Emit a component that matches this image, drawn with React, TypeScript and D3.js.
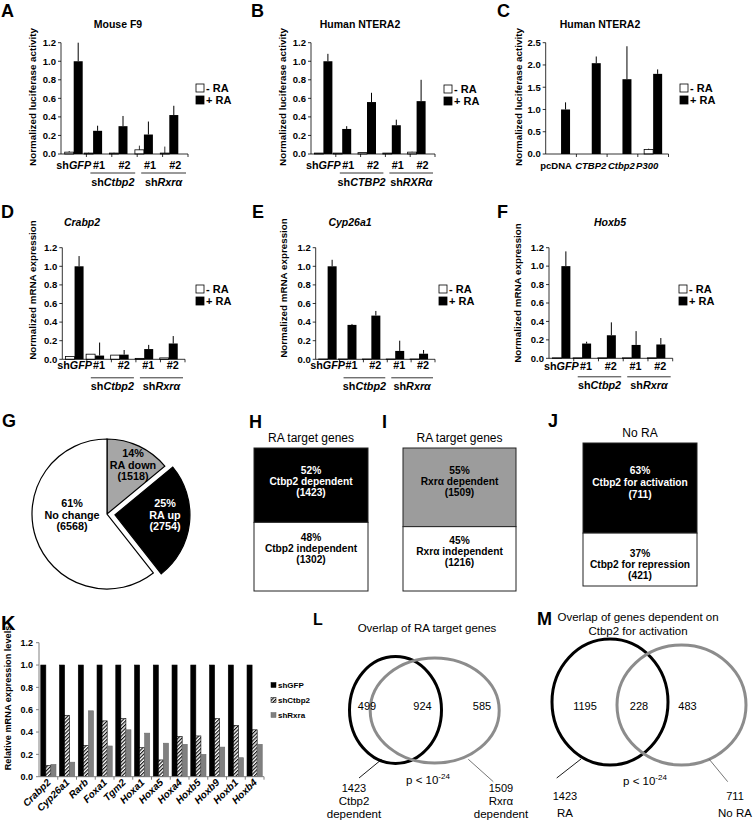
import React from 'react';
import * as d3 from 'd3';

const FONT = 'Arial, "Liberation Sans", Helvetica, sans-serif';

// ================= DATA =================
// Panels A–F : categories (text between * is italic)
const catsSh = ['sh*GFP*', '#1', '#2', '#1', '#2'];
const groupsMouse = ['sh*Ctbp2*', 'sh*Rxrα*'];
const groupsHuman = ['sh*CTBP2*', 'sh*RXRα*'];
const catsC = ['pcDNA', '*CTBP2*', '*Ctbp2*', '*P300*'];
const legendLabels = ['- RA', '+ RA'];

const ticks12 = [0, 0.2, 0.4, 0.6, 0.8, 1.0, 1.2];
const ticks25 = [0, 0.5, 1.0, 1.5, 2.0, 2.5];

// A: Mouse F9 luciferase
const minusA = [0.02, 0.01, 0.01, 0.045, 0.01];
const minusErrA = [0.012, 0.004, 0.004, 0.045, 0.07];
const plusA = [1.0, 0.25, 0.3, 0.21, 0.42];
const plusErrA = [0.2, 0.055, 0.11, 0.14, 0.1];

// B: Human NTERA2 luciferase
const minusB = [0.01, 0.01, 0.015, 0.01, 0.02];
const minusErrB = [0, 0, 0, 0, 0.005];
const plusB = [1.0, 0.27, 0.56, 0.31, 0.57];
const plusErrB = [0.08, 0.03, 0.1, 0.06, 0.23];

// C: Human NTERA2 overexpression
const minusC = [0, 0, 0, 0.1];
const minusErrC = [0, 0, 0, 0.02];
const plusC = [1.0, 2.04, 1.68, 1.8];
const plusErrC = [0.16, 0.15, 0.74, 0.1];

// D: Crabp2 mRNA
const minusD = [0.03, 0.055, 0.045, 0.01, 0.015];
const minusErrD = [0, 0, 0, 0, 0];
const plusD = [1.0, 0.04, 0.05, 0.11, 0.17];
const plusErrD = [0.11, 0.14, 0.05, 0.045, 0.08];

// E: Cyp26a1 mRNA
const minusE = [0.003, 0.003, 0.003, 0.003, 0.003];
const minusErrE = [0, 0, 0, 0, 0];
const plusE = [1.0, 0.37, 0.47, 0.09, 0.06];
const plusErrE = [0.07, 0.01, 0.05, 0.11, 0.04];

// F: Hoxb5 mRNA
const minusF = [0.005, 0.005, 0.005, 0.005, 0.005];
const minusErrF = [0, 0, 0, 0, 0];
const plusF = [1.0, 0.16, 0.25, 0.145, 0.15];
const plusErrF = [0.16, 0.02, 0.14, 0.15, 0.07];

// G: pie
const gLabels = ['RA down', 'RA up', 'No change'];
const gCounts = [1518, 2754, 6568];
const gPct = [14, 25, 61];

// H, I, J: stacked boxes
const hPct = [52, 48];
const hCounts = [1423, 1302];
const hLabels = ['Ctbp2 dependent', 'Ctbp2 independent'];
const iPct = [55, 45];
const iCounts = [1509, 1216];
const iLabels = ['Rxrα dependent', 'Rxrα independent'];
const jPct = [63, 37];
const jCounts = [711, 421];
const jLabels = ['Ctbp2 for activation', 'Ctbp2 for repression'];

// K: relative mRNA
const kGenes = ['Crabp2', 'Cyp26a1', 'Rarb', 'Foxa1', 'Tgm2', 'Hoxa1', 'Hoxa5', 'Hoxa4', 'Hoxb5', 'Hoxb9', 'Hoxb1', 'Hoxb4'];
const kSeries = ['shGFP', 'shCtbp2', 'shRxra'];
const kShGFP = [1, 1, 1, 1, 1, 1, 1, 1, 1, 1, 1, 1];
const kShCtbp2 = [0.1, 0.55, 0.28, 0.5, 0.52, 0.26, 0.15, 0.36, 0.365, 0.52, 0.46, 0.42];
const kShRxra = [0.11, 0.13, 0.59, 0.275, 0.42, 0.39, 0.3, 0.29, 0.2, 0.265, 0.17, 0.29];

// L, M: Venn
const lCounts = [499, 924, 585];
const lTotals = [1423, 1509];
const lSetNames = [['Ctbp2', 'dependent'], ['Rxrα', 'dependent']];
const mCounts = [1195, 228, 483];
const mTotals = [1423, 711];
const mSetNames = [['RA'], ['No RA']];

// ================= HELPERS =================
const rich = (s: string) =>
  s.split('*').map((p, i) =>
    p === '' ? null : (
      <tspan key={i} fontStyle={i % 2 === 1 ? 'italic' : 'normal'}>
        {p}
      </tspan>
    )
  );

function Letter({ x, y, t, size = 18 }: any) {
  return (
    <text x={x} y={y} fontSize={size} fontWeight="bold">
      {t}
    </text>
  );
}

// ================= BAR PANELS =================
function BarPanel({ c }: any) {
  const ticks: number[] = c.ticks;
  const yMax = ticks[ticks.length - 1];
  const y = d3.scaleLinear().domain([0, yMax]).range([c.yBase, c.yTop]);
  const x = d3.scaleBand<number>().domain(d3.range(c.cats.length)).range([c.x0, c.x1]);
  const step = x.step();
  const bw = 9;
  const fmt = d3.format('.1f');
  const shift = (i: number) => (c.barShift ? c.barShift[i] : 0);
  const lshift = (i: number) => (c.labelShift ? c.labelShift[i] : 0);
  const labelFont = c.labelFont || 10.8;
  return (
    <g>
      <Letter x={c.letterX} y={c.letterY} t={c.letter} />
      <text x={c.titleX} y={c.titleY} fontSize={10.5} fontWeight="bold" textAnchor="middle">
        {rich(c.title)}
      </text>
      <text
        transform={`translate(${c.yLabelX},${c.yLabelY}) rotate(-90)`}
        dy="0.35em"
        fontSize={9.8}
        fontWeight="bold"
        textAnchor="middle"
      >
        {c.yLabel}
      </text>
      {c.cats.map((cat: string, i: number) => {
        const center = (x(i) as number) + step / 2;
        const cx = center + shift(i);
        return (
          <g key={i}>
            <rect x={cx - bw} y={y(c.minus[i])} width={bw} height={c.yBase - y(c.minus[i])} fill="#fff" stroke="#000" strokeWidth={0.8} />
            {c.minusErr[i] > 0 && (
              <line x1={cx - bw / 2} x2={cx - bw / 2} y1={y(c.minus[i])} y2={y(c.minus[i] + c.minusErr[i])} stroke="#000" strokeWidth={0.8} />
            )}
            <rect x={cx} y={y(c.plus[i])} width={bw} height={c.yBase - y(c.plus[i])} fill="#000" />
            {c.plusErr[i] > 0 && (
              <line x1={cx + bw / 2} x2={cx + bw / 2} y1={y(c.plus[i])} y2={y(c.plus[i] + c.plusErr[i])} stroke="#000" strokeWidth={1} />
            )}
            <text x={center + lshift(i)} y={c.yBase + c.labelDy} fontSize={labelFont} fontWeight="bold" textAnchor="middle">
              {rich(cat)}
            </text>
          </g>
        );
      })}
      {/* y axis */}
      <line x1={c.x0} x2={c.x0} y1={y(0)} y2={y(yMax)} stroke="#000" strokeWidth={0.8} />
      {ticks.map((t) => (
        <g key={t}>
          <line x1={c.x0 - 3} x2={c.x0} y1={y(t)} y2={y(t)} stroke="#000" strokeWidth={0.8} />
          <text x={c.x0 - 5} y={y(t)} dy="0.35em" fontSize={9.5} fontWeight="bold" textAnchor="end">
            {fmt(t)}
          </text>
        </g>
      ))}
      {/* x axis */}
      <line x1={c.x0} x2={c.x1} y1={y(0)} y2={y(0)} stroke="#000" strokeWidth={0.8} />
      {d3.range(1, c.cats.length + 1).map((i) => (
        <line key={i} x1={c.x0 + i * step} x2={c.x0 + i * step} y1={y(0)} y2={y(0) + 3} stroke="#000" strokeWidth={0.8} />
      ))}
      {c.groups &&
        c.groups.map((g: string, gi: number) => {
          const [a, b] = c.groupSpans[gi];
          const xa = (x(a) as number) + 4;
          const xb = (x(b) as number) + step - 2;
          return (
            <g key={gi}>
              <line x1={xa} x2={xb} y1={c.yBase + c.lineDy} y2={c.yBase + c.lineDy} stroke="#000" strokeWidth={0.8} />
              <text x={(xa + xb) / 2} y={c.yBase + c.groupDy} fontSize={10.8} fontWeight="bold" textAnchor="middle">
                {rich(g)}
              </text>
            </g>
          );
        })}
      {/* legend */}
      {legendLabels.map((l, i) => (
        <g key={l}>
          <rect x={c.legendX} y={c.legendY + i * 12 - 4} width={8} height={8} fill={i === 0 ? '#fff' : '#000'} stroke="#000" strokeWidth={0.8} />
          <text x={c.legendX + 10} y={c.legendY + i * 12} dy="0.35em" fontSize={11} fontWeight="bold">
            {l}
          </text>
        </g>
      ))}
    </g>
  );
}

const topRow = { yBase: 154, yTop: 42.7, labelDy: 15, lineDy: 19, groupDy: 32 };
const midRow = { yBase: 359.3, yTop: 247.7, labelDy: 9.5, lineDy: 18.5, groupDy: 31 };
const shiftSh = [0, -6, -6, -6, -6];
const shiftShD = [0, -4, -4, -4, -4];

const panelA = {
  ...topRow, letter: 'A', letterX: 1, letterY: 17, title: 'Mouse F9', titleX: 118, titleY: 28,
  yLabel: 'Normalized luciferase activity', yLabelX: 33, yLabelY: 97,
  x0: 61, x1: 188, ticks: ticks12, cats: catsSh, minus: minusA, minusErr: minusErrA, plus: plusA, plusErr: plusErrA,
  groups: groupsMouse, groupSpans: [[1, 2], [3, 4]], legendX: 196, legendY: 88, barShift: shiftSh,
};
const panelB = {
  ...topRow, letter: 'B', letterX: 251, letterY: 17, title: 'Human NTERA2', titleX: 360, titleY: 28,
  yLabel: 'Normalized luciferase activity', yLabelX: 283, yLabelY: 97,
  x0: 311, x1: 435, ticks: ticks12, cats: catsSh, minus: minusB, minusErr: minusErrB, plus: plusB, plusErr: plusErrB,
  groups: groupsHuman, groupSpans: [[1, 2], [3, 4]], legendX: 444, legendY: 89, barShift: shiftSh,
};
const panelC = {
  ...topRow, letter: 'C', letterX: 497, letterY: 17, title: 'Human NTERA2', titleX: 600, titleY: 28,
  yLabel: 'Normalized luciferase activity', yLabelX: 519, yLabelY: 97,
  x0: 545.7, x1: 668.5, ticks: ticks25, cats: catsC, minus: minusC, minusErr: minusErrC, plus: plusC, plusErr: plusErrC,
  legendX: 680, legendY: 88, labelShift: [-5, -1, -1, -6], labelFont: 9.5,
};
const panelD = {
  ...midRow, letter: 'D', letterX: 1, letterY: 218, title: '*Crabp2*', titleX: 82, titleY: 226,
  yLabel: 'Normalized mRNA expression', yLabelX: 33, yLabelY: 290,
  x0: 62.3, x1: 185, ticks: ticks12, cats: catsSh, minus: minusD, minusErr: minusErrD, plus: plusD, plusErr: plusErrD,
  groups: groupsMouse, groupSpans: [[1, 2], [3, 4]], legendX: 196, legendY: 289, barShift: shiftShD,
};
const panelE = {
  ...midRow, letter: 'E', letterX: 252, letterY: 218, title: '*Cyp26a1*', titleX: 350, titleY: 226,
  yLabel: 'Normalized mRNA expression', yLabelX: 284, yLabelY: 288,
  x0: 315.7, x1: 435, ticks: ticks12, cats: catsSh, minus: minusE, minusErr: minusErrE, plus: plusE, plusErr: plusErrE,
  groups: groupsMouse, groupSpans: [[1, 2], [3, 4]], legendX: 439, legendY: 289, barShift: shiftShD,
};
const panelF = {
  ...midRow, yBase: 358.3, letter: 'F', letterX: 497, letterY: 218, title: '*Hoxb5*', titleX: 610, titleY: 226,
  yLabel: 'Normalized mRNA expression', yLabelX: 518, yLabelY: 293,
  x0: 549, x1: 672.7, ticks: ticks12, cats: catsSh, minus: minusF, minusErr: minusErrF, plus: plusF, plusErr: plusErrF,
  groups: groupsMouse, groupSpans: [[1, 2], [3, 4]], legendX: 679, legendY: 289, labelDy: 11.5, barShift: shiftShD,
};

// ================= PIE (G) =================
function PiePanel() {
  const cx = 107, cy = 514, r = 75, explode = 8;
  const arcs = d3.pie<number>().sort(null).startAngle(0).endAngle(2 * Math.PI)(gCounts);
  const arc = d3.arc<d3.PieArcDatum<number>>().innerRadius(0).outerRadius(r);
  const fills = ['#a6a6a6', '#000', '#fff'];
  const textFill = ['#000', '#fff', '#000'];
  const labelPos = [[133, 468.5], [165, 518.5], [72, 518.5]];
  return (
    <g>
      <Letter x={2} y={427} t="G" />
      {arcs.map((a, i) => {
        const mid = (a.startAngle + a.endAngle) / 2;
        const off = i === 1 ? explode : 0;
        const dx = Math.sin(mid) * off, dy = -Math.cos(mid) * off;
        return (
          <path key={i} d={arc(a) as string} transform={`translate(${cx + dx},${cy + dy})`} fill={fills[i]} stroke="#000" strokeWidth={1.2} />
        );
      })}
      {arcs.map((a, i) => (
        <text key={'t' + i} x={labelPos[i][0]} y={labelPos[i][1]} fontSize={10.8} fontWeight="bold" textAnchor="middle" fill={textFill[i]}>
          <tspan x={labelPos[i][0]} dy={-11.5}>{gPct[i]}%</tspan>
          <tspan x={labelPos[i][0]} dy={11.5}>{gLabels[i]}</tspan>
          <tspan x={labelPos[i][0]} dy={11.5}>({gCounts[i]})</tspan>
        </text>
      ))}
    </g>
  );
}

// ================= BOXES (H, I, J) =================
function BoxPanel({ c }: any) {
  const y = d3.scaleLinear().domain([0, 100]).range([c.top, c.top + c.h]);
  const split = y(c.pct[0]);
  const cx = c.x + c.w / 2;
  const lines = (i: number) => [`${c.pct[i]}%`, c.labels[i], `(${c.counts[i]})`];
  return (
    <g>
      <Letter x={c.letterX} y={c.letterY} t={c.letter} />
      <text x={cx} y={c.titleY} fontSize={12} textAnchor="middle">
        {c.title}
      </text>
      <rect x={c.x} y={y(0)} width={c.w} height={split - y(0)} fill={c.fill} stroke="#222" strokeWidth={1} />
      <rect x={c.x} y={split} width={c.w} height={y(100) - split} fill="#fff" stroke="#222" strokeWidth={1} />
      {lines(0).map((t, k) => (
        <text key={'a' + k} x={cx} y={y(0) + c.topOff[k]} fontSize={10.2} fontWeight="bold" textAnchor="middle" fill={c.textFill}>
          {t}
        </text>
      ))}
      {lines(1).map((t, k) => (
        <text key={'b' + k} x={cx} y={split + c.botOff[k]} fontSize={10.2} fontWeight="bold" textAnchor="middle" fill="#000">
          {t}
        </text>
      ))}
    </g>
  );
}

const boxH = { letter: 'H', letterX: 249, letterY: 428, title: 'RA target genes', titleY: 442, x: 254, w: 114, top: 448, h: 143,
  pct: hPct, counts: hCounts, labels: hLabels, fill: '#000', textFill: '#fff', topOff: [26, 37, 48], botOff: [19, 30, 41] };
const boxI = { letter: 'I', letterX: 382, letterY: 428, title: 'RA target genes', titleY: 442, x: 403, w: 113, top: 448, h: 143,
  pct: iPct, counts: iCounts, labels: iLabels, fill: '#9c9c9c', textFill: '#000', topOff: [26, 37, 48], botOff: [17, 28, 39] };
const boxJ = { letter: 'J', letterX: 548, letterY: 427, title: 'No RA', titleY: 437, x: 583, w: 114, top: 443, h: 143,
  pct: jPct, counts: jCounts, labels: jLabels, fill: '#000', textFill: '#fff', topOff: [31, 43, 55], botOff: [24, 35, 46] };

// ================= K =================
function KPanel() {
  const y = d3.scaleLinear().domain([0, 1.2]).range([776.7, 642.7]);
  const x = d3.scaleBand<string>().domain(kGenes).range([39, 264]);
  const inner = d3.scaleBand<string>().domain(kSeries).range([0, x.step()]).paddingInner(0).paddingOuter(0.35);
  const series = [kShGFP, kShCtbp2, kShRxra];
  const fills = ['#000', 'url(#hatch)', '#808080'];
  const strokes = ['#000', '#000', '#6a6a6a'];
  const fmt = d3.format('.1f');
  const axisCol = '#808080';
  return (
    <g>
      <defs>
        <pattern id="hatch" width={2.6} height={2.6} patternUnits="userSpaceOnUse" patternTransform="rotate(45)">
          <rect width={2.6} height={2.6} fill="#fff" />
          <line x1={0.6} y1={0} x2={0.6} y2={2.6} stroke="#000" strokeWidth={1.1} />
        </pattern>
      </defs>
      <Letter x={1} y={630} t="K" size={20} />
      <text transform="translate(7.5,698) rotate(-90)" dy="0.35em" fontSize={9.2} fontWeight="bold" textAnchor="middle">
        Relative mRNA expression levels
      </text>
      {kGenes.map((g, gi) => (
        <g key={g}>
          {series.map((s, si) => (
            <rect key={si} x={(x(g) as number) + (inner(kSeries[si]) as number)} y={y(s[gi])} width={inner.bandwidth()}
              height={y(0) - y(s[gi])} fill={fills[si]} stroke={strokes[si]} strokeWidth={0.6} />
          ))}
          <text transform={`translate(${(x(g) as number) + x.step() / 2 + 3},${783}) rotate(-45)`} fontSize={10}
            fontWeight="bold" fontStyle="italic" textAnchor="end">
            {g}
          </text>
        </g>
      ))}
      <line x1={39} x2={39} y1={y(0)} y2={y(1.2)} stroke={axisCol} strokeWidth={1} />
      {ticks12.map((t) => (
        <g key={t}>
          <line x1={36} x2={39} y1={y(t)} y2={y(t)} stroke={axisCol} />
          <text x={33} y={y(t)} dy="0.35em" fontSize={9} fontWeight="bold" textAnchor="end">{fmt(t)}</text>
        </g>
      ))}
      <line x1={39} x2={264} y1={y(0)} y2={y(0)} stroke={axisCol} strokeWidth={1} />
      {d3.range(1, kGenes.length + 1).map((i) => (
        <line key={i} x1={39 + i * x.step()} x2={39 + i * x.step()} y1={y(0)} y2={y(0) + 3} stroke={axisCol} />
      ))}
      {kSeries.map((s, si) => (
        <g key={s}>
          <rect x={271} y={685 + si * 15 - 2.5} width={5} height={5} fill={fills[si]} stroke={strokes[si]} strokeWidth={0.5} />
          <text x={278} y={685 + si * 15} dy="0.35em" fontSize={8} fontWeight="bold">{s}</text>
        </g>
      ))}
    </g>
  );
}

// ================= VENN (L, M) =================
function VennPanel({ c }: any) {
  return (
    <g>
      <Letter x={c.letterX} y={c.letterY} t={c.letter} size={c.letterSize} />
      {c.title.map((t: string, i: number) => (
        <text key={i} x={c.titleX} y={c.titleY + i * 13.5} fontSize={11.5} textAnchor="middle">{t}</text>
      ))}
      {c.ellipses.map((e: any, i: number) => (
        <ellipse key={i} cx={e[0]} cy={e[1]} rx={e[2]} ry={e[3]} fill="none" stroke={i === 0 ? '#000' : '#8c8c8c'} strokeWidth={3} />
      ))}
      {c.counts.map((n: number, i: number) => (
        <text key={i} x={c.countX[i]} y={c.countY} fontSize={11} textAnchor="middle">{n}</text>
      ))}
      {c.leaders.map((l: number[], i: number) => (
        <line key={i} x1={l[0]} y1={l[1]} x2={l[2]} y2={l[3]} stroke={i === 0 ? '#000' : '#666'} strokeWidth={0.9} />
      ))}
      <text x={c.pX} y={c.pY} fontSize={11.5} textAnchor="middle">
        p &lt; 10<tspan dy={-5} fontSize={8}>-24</tspan>
      </text>
      {c.totals.map((n: number, i: number) => (
        <g key={i}>
          <text x={c.totalX[i]} y={c.totalY} fontSize={11} textAnchor="middle">{n}</text>
          {c.names[i].map((t: string, k: number) => (
            <text key={k} x={c.totalX[i]} y={c.totalY + (k + 1) * c.nameStep} fontSize={11.5} textAnchor="middle">{t}</text>
          ))}
        </g>
      ))}
    </g>
  );
}

const vennL = {
  letter: 'L', letterX: 313, letterY: 625, letterSize: 16, title: ['Overlap of RA target genes'], titleX: 427, titleY: 632,
  ellipses: [[395.5, 710, 46, 53.5], [434.7, 710.5, 64.5, 52.5]],
  counts: lCounts, countX: [367, 422.5, 482], countY: 710,
  leaders: [[381.5, 759.5, 359, 778], [468.3, 759.3, 493.3, 781.7]],
  pX: 428, pY: 784, totals: lTotals, totalX: [354, 501], totalY: 792, names: lSetNames, nameStep: 12.8,
};
const vennM = {
  letter: 'M', letterX: 537, letterY: 625, letterSize: 18, title: ['Overlap of genes dependent on', 'Ctbp2 for activation'], titleX: 638, titleY: 621,
  ellipses: [[610, 702, 58, 63], [681.5, 705, 64.5, 60]],
  counts: mCounts, countX: [585, 639, 687.5], countY: 710,
  leaders: [[581, 759, 556.7, 778], [709, 759, 727.7, 781.7]],
  pX: 645, pY: 785, totals: mTotals, totalX: [565, 735], totalY: 800, names: mSetNames, nameStep: 16.5,
};

export default function App() {
  return (
    <svg width={754} height={822} style={{ position: 'absolute', left: 0, top: 0, background: '#fff' }} fontFamily={FONT}>
      <rect width={754} height={822} fill="#fff" />
      <BarPanel c={panelA} />
      <BarPanel c={panelB} />
      <BarPanel c={panelC} />
      <BarPanel c={panelD} />
      <BarPanel c={panelE} />
      <BarPanel c={panelF} />
      <PiePanel />
      <BoxPanel c={boxH} />
      <BoxPanel c={boxI} />
      <BoxPanel c={boxJ} />
      <KPanel />
      <VennPanel c={vennL} />
      <VennPanel c={vennM} />
    </svg>
  );
}
